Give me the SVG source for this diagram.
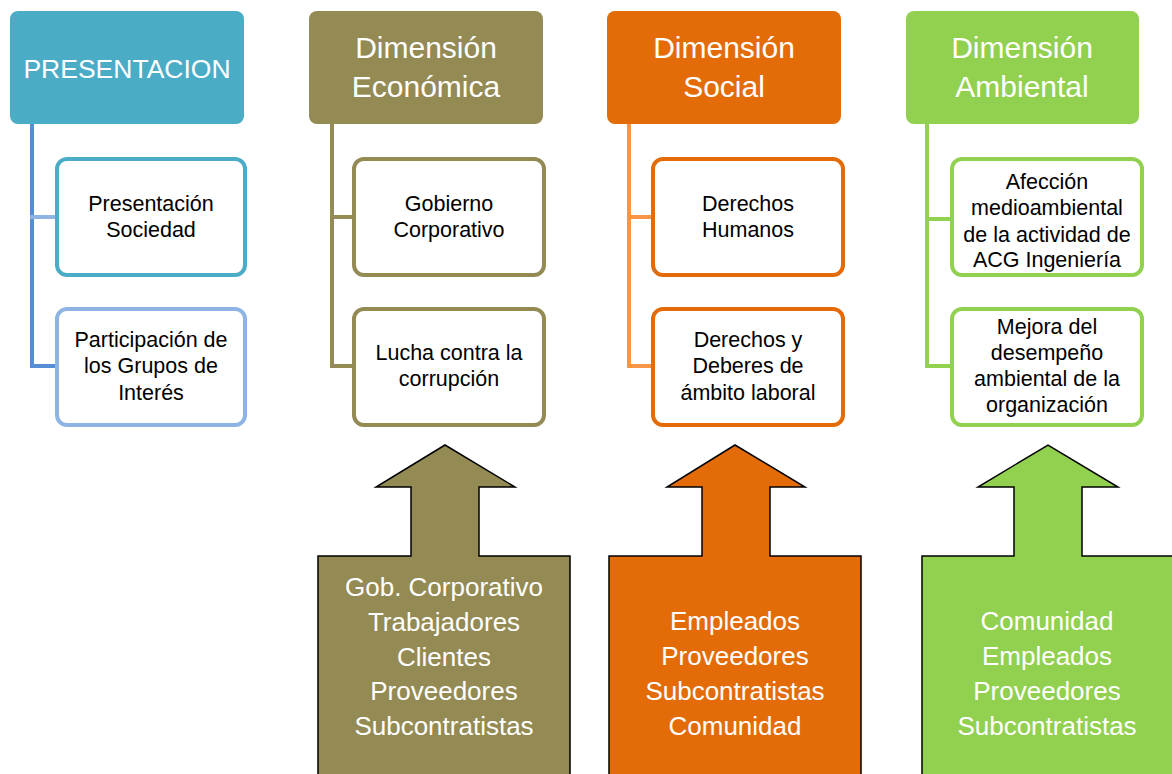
<svg xmlns="http://www.w3.org/2000/svg" width="1172" height="774" viewBox="0 0 1172 774">
  <style>
    .hdr { stroke: none; }
    .hdrtxt { font-family: "Liberation Sans", Arial, sans-serif; font-size: 30px; fill: #ffffff; text-anchor: middle; }
    .hdrtxt.caps { font-size: 26.5px; }
    .box { fill: #ffffff; stroke-width: 4; }
    .boxtxt { font-family: "Liberation Sans", Arial, sans-serif; font-size: 21.5px; fill: #000000; text-anchor: middle; }
    .arrow { stroke: #000000; stroke-width: 1.5; stroke-linejoin: miter; }
    .arrtxt { font-family: "Liberation Sans", Arial, sans-serif; font-size: 26px; fill: #ffffff; text-anchor: middle; }
    .conn { fill: none; stroke-width: 4; stroke-linecap: square; }
  </style>
  <rect width="1172" height="774" fill="#ffffff"/>

  <g id="connectors">
    <line class="conn" x1="32" y1="126" x2="32" y2="366" stroke="#558ED5"/>
    <line class="conn" x1="32" y1="217" x2="55" y2="217" stroke="#8EB4E3"/>
    <line class="conn" x1="32" y1="366" x2="55" y2="366" stroke="#558ED5"/>

    <line class="conn" x1="332" y1="126" x2="332" y2="366" stroke="#948A54"/>
    <line class="conn" x1="332" y1="217" x2="352" y2="217" stroke="#948A54"/>
    <line class="conn" x1="332" y1="366" x2="352" y2="366" stroke="#948A54"/>

    <line class="conn" x1="629" y1="126" x2="629" y2="366" stroke="#F79646"/>
    <line class="conn" x1="629" y1="217" x2="651" y2="217" stroke="#F79646"/>
    <line class="conn" x1="629" y1="366" x2="651" y2="366" stroke="#F79646"/>

    <line class="conn" x1="927" y1="126" x2="927" y2="366" stroke="#92D050"/>
    <line class="conn" x1="927" y1="219" x2="950" y2="219" stroke="#92D050"/>
    <line class="conn" x1="927" y1="366" x2="950" y2="366" stroke="#92D050"/>
  </g>

  <g id="presentacion">
    <rect class="hdr" x="10" y="11" width="234" height="113" rx="8" fill="#4BACC6"/>
    <text class="hdrtxt caps" x="127" y="78">PRESENTACION</text>
  </g>
  <g id="presentacion-sociedad">
    <rect class="box" x="57" y="159" width="188" height="116" rx="10" stroke="#4BACC6"/>
    <text class="boxtxt" x="151" y="211">Presentación</text>
    <text class="boxtxt" x="151" y="237">Sociedad</text>
  </g>
  <g id="participacion-grupos">
    <rect class="box" x="57" y="309" width="188" height="116" rx="10" stroke="#8EB4E3"/>
    <text class="boxtxt" x="151" y="347">Participación de</text>
    <text class="boxtxt" x="151" y="373">los Grupos de</text>
    <text class="boxtxt" x="151" y="400">Interés</text>
  </g>

  <g id="dimension-economica">
    <rect class="hdr" x="309" y="11" width="234" height="113" rx="8" fill="#948A54"/>
    <text class="hdrtxt" x="426" y="58">Dimensión</text>
    <text class="hdrtxt" x="426" y="97">Económica</text>
  </g>
  <g id="gobierno-corporativo">
    <rect class="box" x="354" y="159" width="190" height="116" rx="10" stroke="#948A54"/>
    <text class="boxtxt" x="449" y="211">Gobierno</text>
    <text class="boxtxt" x="449" y="237">Corporativo</text>
  </g>
  <g id="lucha-corrupcion">
    <rect class="box" x="354" y="309" width="190" height="116" rx="10" stroke="#948A54"/>
    <text class="boxtxt" x="449" y="360">Lucha contra la</text>
    <text class="boxtxt" x="449" y="386">corrupción</text>
  </g>

  <g id="dimension-social">
    <rect class="hdr" x="607" y="11" width="234" height="113" rx="8" fill="#E36C09"/>
    <text class="hdrtxt" x="724" y="58">Dimensión</text>
    <text class="hdrtxt" x="724" y="97">Social</text>
  </g>
  <g id="derechos-humanos">
    <rect class="box" x="653" y="159" width="190" height="116" rx="10" stroke="#E36C09"/>
    <text class="boxtxt" x="748" y="211">Derechos</text>
    <text class="boxtxt" x="748" y="237">Humanos</text>
  </g>
  <g id="derechos-deberes">
    <rect class="box" x="653" y="309" width="190" height="116" rx="10" stroke="#E36C09"/>
    <text class="boxtxt" x="748" y="347">Derechos y</text>
    <text class="boxtxt" x="748" y="373">Deberes de</text>
    <text class="boxtxt" x="748" y="400">ámbito laboral</text>
  </g>

  <g id="dimension-ambiental">
    <rect class="hdr" x="906" y="11" width="233" height="113" rx="8" fill="#92D050"/>
    <text class="hdrtxt" x="1022" y="58">Dimensión</text>
    <text class="hdrtxt" x="1022" y="97">Ambiental</text>
  </g>
  <g id="afeccion">
    <rect class="box" x="952" y="159" width="190" height="116" rx="10" stroke="#92D050"/>
    <text class="boxtxt" x="1047" y="189">Afección</text>
    <text class="boxtxt" x="1047" y="215">medioambiental</text>
    <text class="boxtxt" x="1047" y="242">de la actividad de</text>
    <text class="boxtxt" x="1047" y="267">ACG Ingeniería</text>
  </g>
  <g id="mejora">
    <rect class="box" x="952" y="309" width="190" height="116" rx="10" stroke="#92D050"/>
    <text class="boxtxt" x="1047" y="334">Mejora del</text>
    <text class="boxtxt" x="1047" y="360">desempeño</text>
    <text class="boxtxt" x="1047" y="386">ambiental de la</text>
    <text class="boxtxt" x="1047" y="412">organización</text>
  </g>

  <g id="arrow-economica">
    <path class="arrow" fill="#948A54" d="M318,778 L318,556 L411,556 L411,487 L376,487 L445,445 L515,487 L479,487 L479,556 L570,556 L570,778 Z"/>
    <text class="arrtxt" x="444" y="596">Gob. Corporativo</text>
    <text class="arrtxt" x="444" y="631">Trabajadores</text>
    <text class="arrtxt" x="444" y="666">Clientes</text>
    <text class="arrtxt" x="444" y="700">Proveedores</text>
    <text class="arrtxt" x="444" y="735">Subcontratistas</text>
  </g>
  <g id="arrow-social">
    <path class="arrow" fill="#E36C09" d="M609,778 L609,556 L702,556 L702,487 L667,487 L735,445 L805,487 L770,487 L770,556 L861,556 L861,778 Z"/>
    <text class="arrtxt" x="735" y="630">Empleados</text>
    <text class="arrtxt" x="735" y="665">Proveedores</text>
    <text class="arrtxt" x="735" y="700">Subcontratistas</text>
    <text class="arrtxt" x="735" y="735">Comunidad</text>
  </g>
  <g id="arrow-ambiental">
    <path class="arrow" fill="#92D050" d="M922,778 L922,556 L1014,556 L1014,487 L978,487 L1048,445 L1118,487 L1082,487 L1082,556 L1176,556 L1176,778 Z"/>
    <text class="arrtxt" x="1047" y="630">Comunidad</text>
    <text class="arrtxt" x="1047" y="665">Empleados</text>
    <text class="arrtxt" x="1047" y="700">Proveedores</text>
    <text class="arrtxt" x="1047" y="735">Subcontratistas</text>
  </g>
</svg>
